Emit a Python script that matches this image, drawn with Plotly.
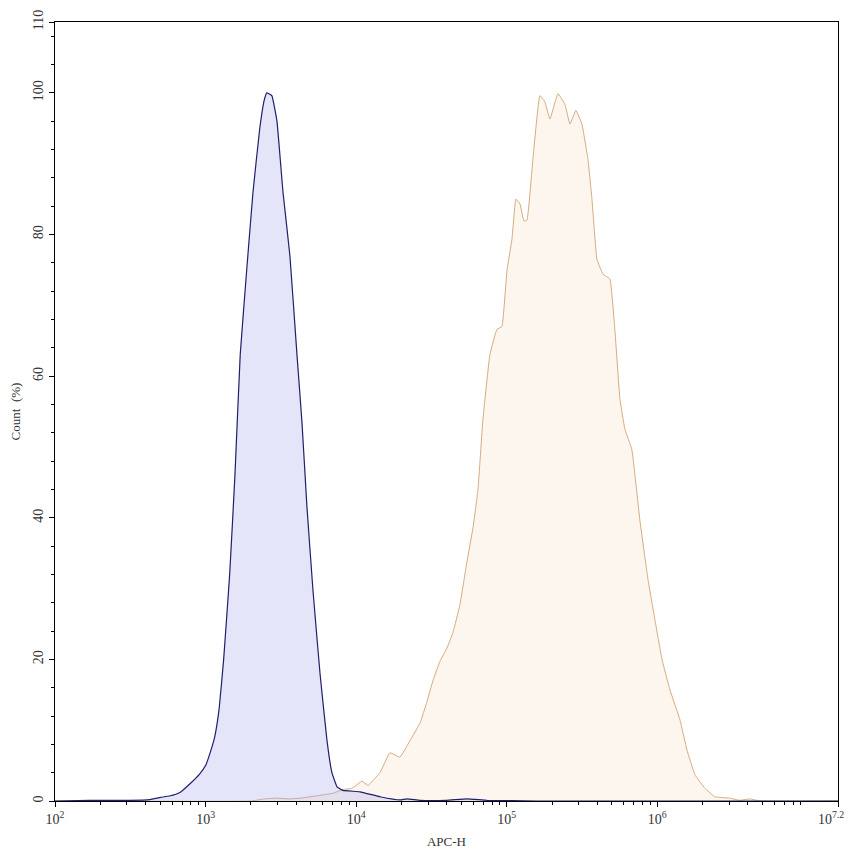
"""Flow cytometry overlay histogram: APC-H, isotype vs stained."""

import numpy as np
import plotly.graph_objects as go

# log10(APC-H) positions and Count (%) for the control (blue) population
blue_log_x = [
    2.00, 2.23, 2.50, 2.63, 2.70, 2.76, 2.83, 2.90, 2.96, 3.00, 3.03, 3.06,
    3.09, 3.12, 3.16, 3.195, 3.23, 3.275, 3.315, 3.36, 3.39, 3.407, 3.44,
    3.474, 3.514, 3.56, 3.607, 3.64, 3.673, 3.713, 3.76, 3.806, 3.839, 3.873,
    3.912, 4.025, 4.158, 4.29, 4.337, 4.424, 4.60, 4.736, 4.869, 5.2, 7.2,
]
blue_count = [
    0.0, 0.1, 0.1, 0.2, 0.5, 0.7, 1.2, 2.5, 3.8, 5.0, 6.8, 9.0,
    13.0, 20.0, 32.0, 46.0, 63.0, 75.5, 86.0, 95.0, 99.0, 100.0, 99.6,
    96.0, 86.0, 77.0, 63.0, 53.5, 41.6, 29.8, 18.0, 8.6, 4.0, 2.0,
    1.5, 1.3, 0.6, 0.15, 0.3, 0.1, 0.1, 0.3, 0.1, 0.0, 0.0,
]

# log10(APC-H) positions and Count (%) for the stained (orange) population
orange_log_x = [
    2.00, 3.30, 3.394, 3.461, 3.56, 3.627, 3.76, 3.846, 3.912, 3.972, 4.039,
    4.078, 4.158, 4.224, 4.291, 4.357, 4.424, 4.47, 4.51, 4.556, 4.603,
    4.643, 4.689, 4.736, 4.776, 4.809, 4.842, 4.888, 4.935, 4.968, 5.001,
    5.035, 5.061, 5.088, 5.114, 5.134, 5.174, 5.22, 5.254, 5.287, 5.34,
    5.386, 5.42, 5.459, 5.499, 5.539, 5.566, 5.599, 5.639, 5.685, 5.718,
    5.752, 5.785, 5.831, 5.884, 5.938, 5.984, 6.031, 6.084, 6.150, 6.197,
    6.250, 6.316, 6.382, 6.482, 6.548, 6.615, 6.681, 7.2,
]
orange_count = [
    0.0, 0.0, 0.3, 0.4, 0.3, 0.4, 0.8, 1.1, 1.6, 1.8, 2.8,
    2.2, 4.0, 6.8, 6.2, 8.5, 11.0, 14.0, 17.0, 19.7, 21.6,
    23.8, 27.7, 33.8, 38.6, 44.0, 53.9, 63.0, 66.6, 67.0, 74.8,
    79.4, 85.0, 84.3, 81.9, 82.0, 90.7, 99.6, 98.7, 96.3, 99.9,
    98.4, 95.6, 97.5, 95.6, 90.7, 85.0, 76.5, 74.4, 73.7, 66.6,
    56.7, 52.5, 49.6, 39.7, 31.3, 25.6, 20.0, 15.7, 11.5, 7.2,
    3.7, 1.8, 0.6, 0.4, 0.1, 0.3, 0.0, 0.0,
]

x_tick_exp = [2, 3, 4, 5, 6, 7.2]
x_tick_text = ["10<sup>2</sup>", "10<sup>3</sup>", "10<sup>4</sup>",
               "10<sup>5</sup>", "10<sup>6</sup>",
               "10<sup>7.2</sup>\u00a0\u00a0\u00a0\u00a0"]
y_tick_vals = [0, 20, 40, 60, 80, 100, 110]

FONT = "Liberation Serif, Times New Roman, serif"

minor_x = [k * 10 ** d for d in range(2, 8) for k in range(2, 10) if k * 10 ** d <= 10 ** 7.2]

fig = go.Figure()

fig.add_trace(go.Scatter(
    x=10 ** np.array(orange_log_x),
    y=orange_count,
    mode="lines",
    name="APC",
    line=dict(color="#d6ac80", width=1, shape="spline", smoothing=0.3),
    fill="tozeroy",
    fillcolor="rgba(245,200,150,0.16)",
    showlegend=False,
))

fig.add_trace(go.Scatter(
    x=10 ** np.array(blue_log_x),
    y=blue_count,
    mode="lines",
    name="Isotype",
    line=dict(color="#1f1f6b", width=1.2, shape="spline", smoothing=0.3),
    fill="tozeroy",
    fillcolor="rgba(170,170,240,0.3)",
    showlegend=False,
))

# the page body keeps its default 8px margin, so the margins are offset by it
fig.update_layout(
    width=853,
    height=856,
    margin=dict(l=47, r=23, t=14, b=63),
    paper_bgcolor="white",
    plot_bgcolor="white",
    font=dict(family=FONT, size=14, color="#333333"),
)

fig.update_xaxes(
    type="log",
    range=[2, 7.2],
    automargin=False,
    tickvals=[10 ** e for e in x_tick_exp],
    ticktext=x_tick_text,
    ticks="outside",
    ticklen=5,
    tickcolor="black",
    minor=dict(tickvals=minor_x, ticks="outside", ticklen=3, tickcolor="black"),
    showline=True,
    linecolor="black",
    linewidth=1,
    mirror=True,
    showgrid=False,
    zeroline=False,
    title=dict(text="APC-H", standoff=11, font=dict(size=13)),
)

fig.update_yaxes(
    range=[0, 110],
    automargin=False,
    tickvals=y_tick_vals,
    tickangle=-90,
    ticks="outside",
    ticklen=5,
    tickcolor="black",
    minor=dict(dtick=4, tick0=0, ticks="outside", ticklen=3, tickcolor="black"),
    showline=True,
    linecolor="black",
    linewidth=1,
    mirror=True,
    showgrid=False,
    zeroline=False,
    title=dict(text="Count  (%)", standoff=10, font=dict(size=13)),
)

fig.write_html("out.html")
